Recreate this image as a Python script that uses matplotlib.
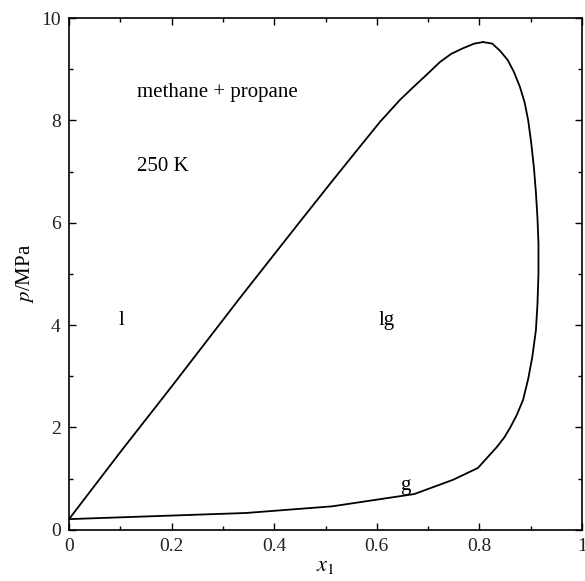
import matplotlib
matplotlib.use("Agg")
import matplotlib.pyplot as plt
from matplotlib.ticker import MultipleLocator

plt.rcParams['font.family'] = ['Liberation Serif', 'DejaVu Serif']
plt.rcParams['mathtext.fontset'] = 'stix'

# bubble curve (liquid side), from pure propane up to the critical point
bubble_x = [0.0, 0.10, 0.20, 0.333, 0.45, 0.515, 0.56, 0.606, 0.645, 0.671,
            0.70, 0.723, 0.745, 0.768, 0.79, 0.807]
bubble_p = [0.21, 1.52, 2.80, 4.53, 6.02, 6.84, 7.40, 7.97, 8.40, 8.65,
            8.92, 9.14, 9.30, 9.41, 9.50, 9.53]

# dew curve (gas side), from the critical point back down
dew_x = [0.807, 0.825, 0.840, 0.855, 0.867, 0.879, 0.888, 0.895, 0.901, 0.906,
         0.910, 0.913, 0.915, 0.915, 0.913, 0.910, 0.903, 0.895, 0.885, 0.873,
         0.860, 0.848, 0.834, 0.797, 0.749, 0.673, 0.513, 0.345, 0.0]
dew_p = [9.53, 9.50, 9.36, 9.18, 8.95, 8.65, 8.35, 8.00, 7.55, 7.09,
         6.60, 6.10, 5.60, 5.00, 4.40, 3.90, 3.38, 2.95, 2.54, 2.25,
         2.00, 1.80, 1.62, 1.21, 0.98, 0.70, 0.46, 0.33, 0.21]

fig = plt.figure(figsize=(5.85, 5.81), dpi=100)
ax = fig.add_axes([0.118, 0.088, 0.877, 0.881])

ax.plot(bubble_x, bubble_p, color='black', lw=1.3)
ax.plot(dew_x, dew_p, color='black', lw=1.3)

ax.set_xlim(0, 1)
ax.set_ylim(0, 10)
ax.xaxis.set_major_locator(MultipleLocator(0.2))
ax.xaxis.set_minor_locator(MultipleLocator(0.1))
ax.yaxis.set_major_locator(MultipleLocator(2))
ax.yaxis.set_minor_locator(MultipleLocator(1))
ax.xaxis.set_major_formatter(lambda v, pos: f"{v:g}")
ax.tick_params(which='both', direction='in', top=True, right=True,
               labelsize=14, width=1.0, pad=6, labelcolor='#222222')
ax.tick_params(which='major', length=5)
ax.tick_params(which='minor', length=3)
for s in ax.spines.values():
    s.set_linewidth(1.2)

ax.set_xlabel(r"$x_1$", fontsize=16, labelpad=1)
ax.set_ylabel(r"$p$/MPa", fontsize=15, labelpad=4)

ax.text(0.133, 8.55, "methane + propane", fontsize=15, va='center')
ax.text(0.133, 7.09, "250 K", fontsize=15, va='center')
ax.text(0.103, 4.1, "l", fontsize=15, ha='center', va='center')
ax.text(0.62, 4.1, "lg", fontsize=15, ha='center', va='center')
ax.text(0.655, 0.86, "g", fontsize=15, ha='center', va='center')

fig.savefig("out.png", dpi=100)
